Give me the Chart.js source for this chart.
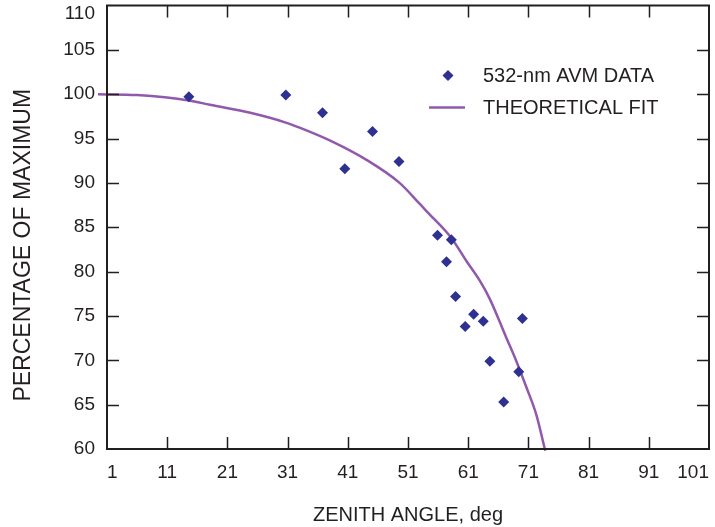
<!DOCTYPE html>
<html>
<head>
<meta charset="utf-8">
<script src="https://cdn.jsdelivr.net/npm/chart.js@4/dist/chart.umd.min.js"></script>
<style>
  html, body { margin: 0; padding: 0; background: #fff; }
  #wrap { width: 715px; height: 527px; }
</style>
</head>
<body>
<div id="wrap"><canvas id="myChart"></canvas></div>
<script>
// measured points (zenith angle, % of maximum)
const dataAngles = [14.6, 30.7, 36.8, 40.5, 45.1, 49.5, 55.9, 57.4, 58.2, 58.9, 60.5, 61.9, 63.5, 64.6, 66.9, 69.4, 70.0];
const dataValues = [99.7, 99.9, 97.9, 91.6, 95.8, 92.4, 84.1, 81.1, 83.6, 77.2, 73.8, 75.2, 74.4, 69.9, 65.3, 68.7, 74.7];

// theoretical fit curve
const fitAngles = [-0.5, 6, 14.6, 18.1, 24.8, 30.7, 33.1, 38.6, 44.1, 49.6, 53.0, 54.1, 58.2, 60.7, 62.9, 64.6, 67.3, 69.0, 70.7, 72.3, 73.8];
const fitValues = [100, 99.9, 99.3, 98.8, 97.9, 96.8, 96.2, 94.6, 92.6, 90.0, 87.6, 86.8, 83.8, 81.2, 79.0, 76.9, 72.6, 69.9, 66.9, 63.9, 59.8];

const xTickValues = [1, 11, 21, 31, 41, 51, 61, 71, 81, 91, 101];
const yTickValues = [60, 65, 70, 75, 80, 85, 90, 95, 100, 105, 110];

const seriesNames = ['532-nm AVM DATA', 'THEORETICAL FIT'];
const xTitle = 'ZENITH ANGLE, deg';
const yTitle = 'PERCENTAGE OF MAXIMUM';

const FONT = '"Liberation Sans", Arial, Helvetica, sans-serif';
const INK = '#231f20';
const BLUE = '#2e3192';
const PURPLE = '#9159ab';

// box, inward ticks, y title and legend
const framePlugin = {
    id: 'frame',
    beforeDraw(chart) {
        // top y label sits a bit lower so it stays inside the canvas
        const items = chart.scales.y.getLabelItems();
        items.forEach(it => {
            if (String(it.label) === '110' && !it._moved) {
                it.options.translation[1] += 8;
                it._moved = true;
            }
        });
    },
    afterDraw(chart) {
        const ctx = chart.ctx;
        const ca = chart.chartArea;
        const xs = chart.scales.x;
        const ys = chart.scales.y;
        const tl = 12;
        ctx.save();
        ctx.strokeStyle = INK;
        ctx.lineWidth = 2;
        ctx.strokeRect(ca.left, ca.top, ca.right - ca.left, ca.bottom - ca.top);
        ctx.lineWidth = 1.5;
        ctx.beginPath();
        yTickValues.slice(1, -1).forEach(v => {
            const py = Math.round(ys.getPixelForValue(v)) + 0.5;
            ctx.moveTo(ca.left, py); ctx.lineTo(ca.left + tl, py);
            ctx.moveTo(ca.right, py); ctx.lineTo(ca.right - tl, py);
        });
        xTickValues.slice(1, -1).forEach(v => {
            const px = Math.round(xs.getPixelForValue(v)) + 0.5;
            ctx.moveTo(px, ca.bottom); ctx.lineTo(px, ca.bottom - tl);
            ctx.moveTo(px, ca.top); ctx.lineTo(px, ca.top + tl);
        });
        ctx.stroke();

        // y axis title
        ctx.fillStyle = INK;
        ctx.font = '23px ' + FONT;
        ctx.textAlign = 'center';
        ctx.textBaseline = 'middle';
        ctx.translate(24, (ca.top + ca.bottom) / 2 + 18);
        ctx.rotate(-Math.PI / 2);
        ctx.fillText(yTitle, 0, 0);
        ctx.restore();

        // legend
        ctx.save();
        const mx = ca.right - 261;
        const y1 = ca.top + 70;
        const y2 = ca.top + 102;
        const tx = ca.right - 226;
        ctx.fillStyle = BLUE;
        ctx.beginPath();
        ctx.moveTo(mx, y1 - 5.5); ctx.lineTo(mx + 5.5, y1);
        ctx.lineTo(mx, y1 + 5.5); ctx.lineTo(mx - 5.5, y1);
        ctx.closePath();
        ctx.fill();
        ctx.strokeStyle = PURPLE;
        ctx.lineWidth = 2.5;
        ctx.beginPath();
        ctx.moveTo(mx - 19, y2); ctx.lineTo(mx + 17, y2);
        ctx.stroke();
        ctx.fillStyle = INK;
        ctx.font = '20px ' + FONT;
        ctx.textAlign = 'left';
        ctx.textBaseline = 'middle';
        ctx.fillText(chart.data.datasets[0].label, tx, y1 + 1);
        ctx.fillText(chart.data.datasets[1].label, tx, y2 + 1);
        ctx.restore();
    }
};

const ctx = document.getElementById('myChart').getContext('2d');
const myChart = new Chart(ctx, {
    type: 'scatter',
    data: {
        datasets: [{
            label: seriesNames[0],
            data: dataAngles.map((a, i) => ({ x: a, y: dataValues[i] })),
            pointStyle: 'rectRot',
            pointRadius: 5.5,
            pointBackgroundColor: BLUE,
            pointBorderColor: BLUE,
            pointBorderWidth: 0,
            order: 1
        }, {
            type: 'line',
            label: seriesNames[1],
            data: fitAngles.map((a, i) => ({ x: a, y: fitValues[i] })),
            borderColor: PURPLE,
            borderWidth: 2.5,
            pointRadius: 0,
            fill: false,
            cubicInterpolationMode: 'monotone',
            clip: false,
            order: 2
        }]
    },
    options: {
        responsive: true,
        maintainAspectRatio: false,
        animation: false,
        layout: { padding: { top: 5, right: 6, left: 0, bottom: 0 } },
        plugins: {
            legend: { display: false },
            tooltip: { enabled: false }
        },
        scales: {
            x: {
                type: 'linear',
                position: 'bottom',
                min: 1,
                max: 101,
                afterBuildTicks: s => { s.ticks = xTickValues.map(v => ({ value: v })); },
                afterFit: s => { s.height = 78; s.paddingLeft = 0; s.paddingRight = 0; },
                grid: { display: false, drawTicks: false },
                border: { display: false },
                ticks: {
                    color: INK,
                    font: { family: FONT, size: 19 },
                    padding: 12,
                    align: 'inner',
                    maxRotation: 0,
                    autoSkip: false
                },
                title: {
                    display: true,
                    text: xTitle,
                    color: INK,
                    font: { family: FONT, size: 20 },
                    padding: { top: 0, bottom: 0 }
                }
            },
            y: {
                min: 60,
                max: 110,
                afterBuildTicks: s => { s.ticks = yTickValues.map(v => ({ value: v })); },
                afterFit: s => { s.width = 107; s.paddingTop = 0; s.paddingBottom = 0; },
                grid: { display: false, drawTicks: false },
                border: { display: false },
                ticks: {
                    color: INK,
                    font: { family: FONT, size: 19 },
                    padding: 12
                },
                title: { display: false }
            }
        }
    },
    plugins: [framePlugin]
});
</script>
</body>
</html>
